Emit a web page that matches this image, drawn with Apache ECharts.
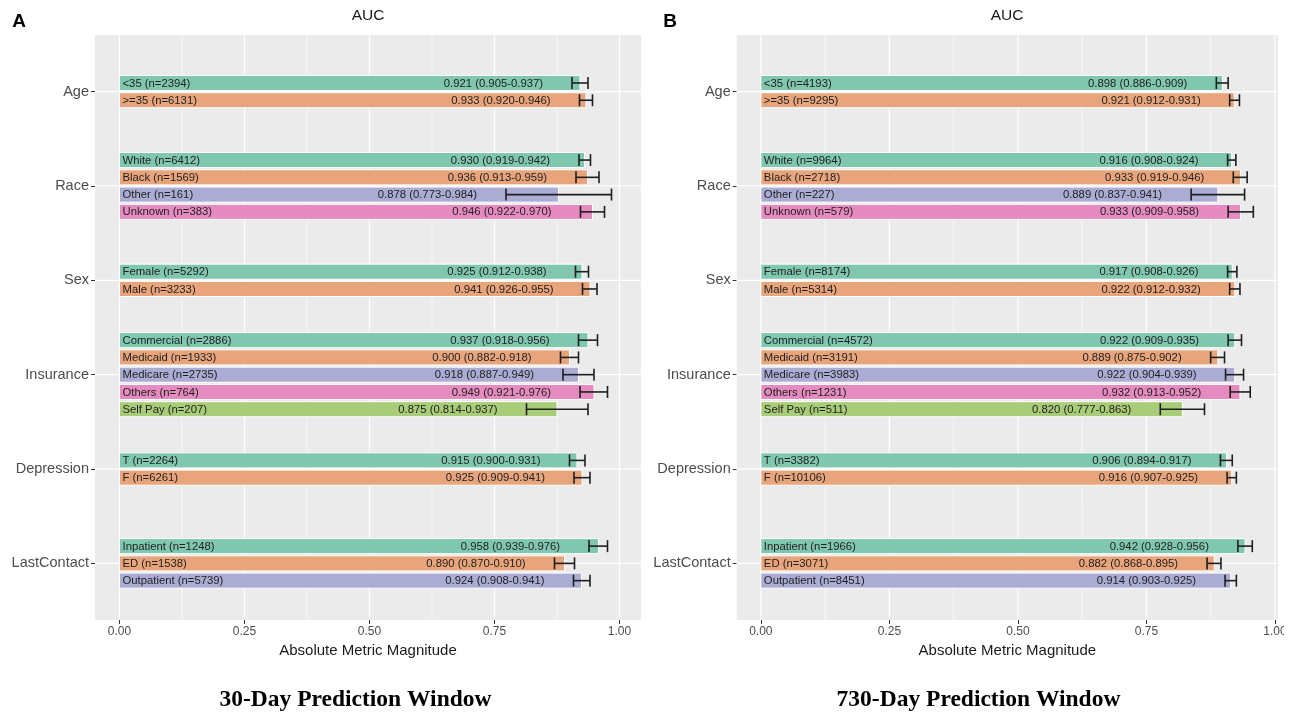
<!DOCTYPE html>
<html>
<head>
<meta charset="utf-8">
<script src="https://cdn.jsdelivr.net/npm/echarts@6/dist/echarts.min.js"></script>
<style>
html,body{margin:0;padding:0;background:#fff;}
#chart{width:1298px;height:714px;}
</style>
</head>
<body>
<div id="chart"></div>
<script>
// ---------- DATA ----------
const groups = ['Age', 'Race', 'Sex', 'Insurance', 'Depression', 'LastContact'];
const subgroupGroup = [0, 0, 1, 1, 1, 1, 2, 2, 3, 3, 3, 3, 3, 4, 4, 5, 5, 5];
const subgroupNames = ['<35', '>=35', 'White', 'Black', 'Other', 'Unknown', 'Female', 'Male',
  'Commercial', 'Medicaid', 'Medicare', 'Others', 'Self Pay', 'T', 'F', 'Inpatient', 'ED', 'Outpatient'];

const n30   = [2394, 6131, 6412, 1569, 161, 383, 5292, 3233, 2886, 1933, 2735, 764, 207, 2264, 6261, 1248, 1538, 5739];
const auc30 = [0.921, 0.933, 0.930, 0.936, 0.878, 0.946, 0.925, 0.941, 0.937, 0.900, 0.918, 0.949, 0.875, 0.915, 0.925, 0.958, 0.890, 0.924];
const lo30  = [0.905, 0.920, 0.919, 0.913, 0.773, 0.922, 0.912, 0.926, 0.918, 0.882, 0.887, 0.921, 0.814, 0.900, 0.909, 0.939, 0.870, 0.908];
const hi30  = [0.937, 0.946, 0.942, 0.959, 0.984, 0.970, 0.938, 0.955, 0.956, 0.918, 0.949, 0.976, 0.937, 0.931, 0.941, 0.976, 0.910, 0.941];

const n730   = [4193, 9295, 9964, 2718, 227, 579, 8174, 5314, 4572, 3191, 3983, 1231, 511, 3382, 10106, 1966, 3071, 8451];
const auc730 = [0.898, 0.921, 0.916, 0.933, 0.889, 0.933, 0.917, 0.922, 0.922, 0.889, 0.922, 0.932, 0.820, 0.906, 0.916, 0.942, 0.882, 0.914];
const lo730  = [0.886, 0.912, 0.908, 0.919, 0.837, 0.909, 0.908, 0.912, 0.909, 0.875, 0.904, 0.913, 0.777, 0.894, 0.907, 0.928, 0.868, 0.903];
const hi730  = [0.909, 0.931, 0.924, 0.946, 0.941, 0.958, 0.926, 0.932, 0.935, 0.902, 0.939, 0.952, 0.863, 0.917, 0.925, 0.956, 0.895, 0.925];

const xMajorTicks = [0, 0.25, 0.5, 0.75, 1.0];
const xMinorTicks = [0.125, 0.375, 0.625, 0.875];
const panelTitles = ['30-Day Prediction Window', '730-Day Prediction Window'];
const panelLetters = ['A', 'B'];
const metricTitle = 'AUC';
const xAxisTitle = 'Absolute Metric Magnitude';

// ---------- STYLE ----------
const palette = ['#80C7AF', '#E8A47B', '#AAACD4', '#E68BC0', '#A9CC79'];
const FONT = '"Liberation Sans", Arial, Helvetica, sans-serif';
const SLOT = 0.183;   // spacing of dodged bars (category units)
const BAR = 0.16;     // bar thickness (category units)

function buildData(n, auc, lo, hi) {
  const counts = groups.map((_, g) => subgroupGroup.filter(x => x === g).length);
  const seen = {};
  return subgroupNames.map((name, i) => {
    const g = subgroupGroup[i];
    seen[g] = (seen[g] === undefined ? -1 : seen[g]) + 1;
    const j = seen[g];
    const y = g + (j - (counts[g] - 1) / 2) * SLOT;
    return { name: name, value: [auc[i], y, lo[i], hi[i], j, n[i]] };
  });
}

function barRender(params, api) {
  const auc = api.value(0), y = api.value(1), lo = api.value(2), hi = api.value(3);
  const j = api.value(4), n = api.value(5);
  const name = subgroupNames[params.dataIndex];
  const p0 = api.coord([0, y]);
  const p1 = api.coord([auc, y]);
  const pl = api.coord([lo, y]);
  const ph = api.coord([hi, y]);
  const h = api.size([0, BAR])[1];
  const cap = 6;
  const ink = '#1f1f1f';
  return {
    type: 'group',
    children: [
      { type: 'rect', shape: { x: p0[0], y: p0[1] - h / 2, width: p1[0] - p0[0], height: h },
        style: { fill: palette[j], stroke: '#ffffff', lineWidth: 1 } },
      { type: 'text', x: p0[0] + 3, y: p0[1] + 0.5,
        style: { text: `${name} (n=${n})`, align: 'left', verticalAlign: 'middle',
                 fontSize: 11.3, fontFamily: FONT, fill: ink } },
      { type: 'text', x: pl[0] - 29, y: p0[1] + 0.5,
        style: { text: `${auc.toFixed(3)} (${lo.toFixed(3)}-${hi.toFixed(3)})`, align: 'right', verticalAlign: 'middle',
                 fontSize: 11.3, fontFamily: FONT, fill: ink } },
      { type: 'line', shape: { x1: pl[0], y1: pl[1], x2: ph[0], y2: ph[1] }, style: { stroke: ink, lineWidth: 1.6 } },
      { type: 'line', shape: { x1: pl[0], y1: pl[1] - cap, x2: pl[0], y2: pl[1] + cap }, style: { stroke: ink, lineWidth: 1.6 } },
      { type: 'line', shape: { x1: ph[0], y1: ph[1] - cap, x2: ph[0], y2: ph[1] + cap }, style: { stroke: ink, lineWidth: 1.6 } }
    ]
  };
}

// gridline items: [x, y, kind]  kind 0 = major vertical, 1 = minor vertical, 2 = horizontal
const gridItems = [
  ...xMajorTicks.map(v => [v, 0, 0]),
  ...xMinorTicks.map(v => [v, 0, 1]),
  ...groups.map((g, i) => [0, i, 2])
];

function gridRender(params, api) {
  const cs = params.coordSys;
  const kind = api.value(2);
  if (kind === 2) {
    const p = api.coord([0, api.value(1)]);
    return { type: 'line', shape: { x1: cs.x, y1: p[1], x2: cs.x + cs.width, y2: p[1] },
             style: { stroke: '#ffffff', lineWidth: 1.2 } };
  }
  const v = api.value(0);
  const p = api.coord([v, 0]);
  if (p[0] < cs.x || p[0] > cs.x + cs.width + 0.5) return null;
  return { type: 'line', shape: { x1: p[0], y1: cs.y, x2: p[0], y2: cs.y + cs.height },
           style: { stroke: '#ffffff', lineWidth: kind === 0 ? 1.2 : 0.6 } };
}

const grids = [
  { left: 95, top: 35, width: 546, height: 585 },
  { left: 736.7, top: 35, width: 541.3, height: 585 }
];
const xRanges = [[-0.049, 1.043], [-0.047, 1.006]];

const chart = echarts.init(document.getElementById('chart'), null, { renderer: 'canvas' });

const option = {
  animation: false,
  backgroundColor: '#ffffff',
  grid: grids.map(g => Object.assign({ show: true, backgroundColor: '#EBEBEB', borderWidth: 0 }, g)),
  xAxis: [0, 1].map(i => ({
    type: 'value', gridIndex: i, min: xRanges[i][0], max: xRanges[i][1], position: 'bottom',
    name: xAxisTitle, nameLocation: 'middle', nameGap: 22,
    nameTextStyle: { fontSize: 15, fontFamily: FONT, color: '#1a1a1a' },
    axisLine: { show: false, onZero: false },
    axisTick: { show: true, customValues: xMajorTicks, length: 4, lineStyle: { color: '#333333', width: 1 } },
    axisLabel: { show: true, customValues: xMajorTicks, margin: 6, fontSize: 12, fontFamily: FONT, color: '#4D4D4D',
                 formatter: v => Number(v).toFixed(2) },
    splitLine: { show: false }
  })),
  yAxis: [0, 1].map(i => ({
    type: 'value', gridIndex: i, min: -0.6, max: 5.6, inverse: true, position: 'left',
    axisLine: { show: false, onZero: false },
    axisTick: { show: true, customValues: groups.map((g, k) => k), length: 4, lineStyle: { color: '#333333', width: 1 } },
    axisLabel: { show: true, customValues: groups.map((g, k) => k), margin: 6, fontSize: 14.5, fontFamily: FONT, color: '#4D4D4D',
                 formatter: v => groups[Math.round(v)] },
    splitLine: { show: false }
  })),
  series: [
    { type: 'custom', name: 'grid30', xAxisIndex: 0, yAxisIndex: 0, z: 1, silent: true,
      renderItem: gridRender, data: gridItems, encode: { x: 0, y: 1 } },
    { type: 'custom', name: 'grid730', xAxisIndex: 1, yAxisIndex: 1, z: 1, silent: true,
      renderItem: gridRender, data: gridItems, encode: { x: 0, y: 1 } },
    { type: 'custom', name: '30-Day', xAxisIndex: 0, yAxisIndex: 0, z: 2,
      renderItem: barRender, data: buildData(n30, auc30, lo30, hi30), encode: { x: 0, y: 1 } },
    { type: 'custom', name: '730-Day', xAxisIndex: 1, yAxisIndex: 1, z: 2,
      renderItem: barRender, data: buildData(n730, auc730, lo730, hi730), encode: { x: 0, y: 1 } }
  ],
  graphic: [
    { type: 'text', x: 19, y: 22, style: { text: panelLetters[0], align: 'center', verticalAlign: 'middle',
        font: 'bold 19px ' + FONT, fill: '#000' } },
    { type: 'text', x: 670, y: 22, style: { text: panelLetters[1], align: 'center', verticalAlign: 'middle',
        font: 'bold 19px ' + FONT, fill: '#000' } },
    { type: 'text', x: 368, y: 16, style: { text: metricTitle, align: 'center', verticalAlign: 'middle',
        font: '15.5px ' + FONT, fill: '#1a1a1a' } },
    { type: 'text', x: 1007, y: 16, style: { text: metricTitle, align: 'center', verticalAlign: 'middle',
        font: '15.5px ' + FONT, fill: '#1a1a1a' } },
    { type: 'text', x: 355.5, y: 700, style: { text: panelTitles[0], align: 'center', verticalAlign: 'middle',
        font: 'bold 23.5px "Liberation Serif", "Times New Roman", serif', fill: '#000' } },
    { type: 'text', x: 978.5, y: 700, style: { text: panelTitles[1], align: 'center', verticalAlign: 'middle',
        font: 'bold 23.5px "Liberation Serif", "Times New Roman", serif', fill: '#000' } },
    { type: 'rect', z: 100, shape: { x: 1284, y: 622, width: 14, height: 30 }, style: { fill: '#ffffff' } }
  ]
};

chart.setOption(option);
</script>
</body>
</html>
